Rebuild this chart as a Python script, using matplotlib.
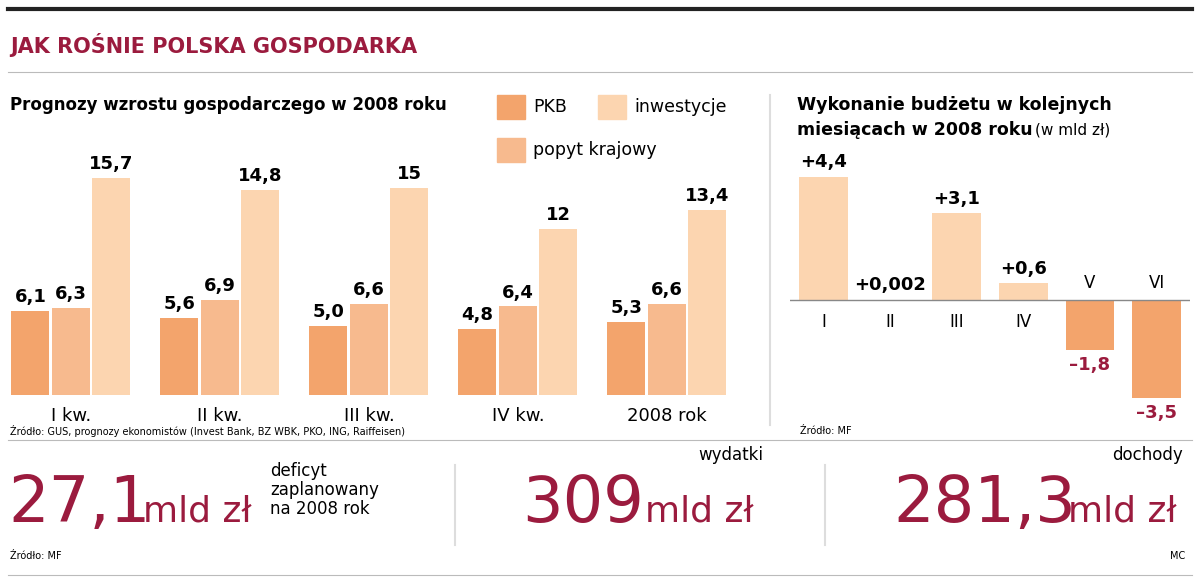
import matplotlib.pyplot as plt
from matplotlib.lines import Line2D
from matplotlib.patches import Rectangle

quarters = ["I kw.", "II kw.", "III kw.", "IV kw.", "2008 rok"]
pkb = [6.1, 5.6, 5.0, 4.8, 5.3]
popyt = [6.3, 6.9, 6.6, 6.4, 6.6]
inwestycje = [15.7, 14.8, 15.0, 12.0, 13.4]
series_names = ["PKB", "popyt krajowy", "inwestycje"]

months = ["I", "II", "III", "IV", "V", "VI"]
budget = [4.4, 0.002, 3.1, 0.6, -1.8, -3.5]
budget_labels = ["+4,4", "+0,002", "+3,1", "+0,6", "\u20131,8", "\u20133,5"]

C_PKB = "#F3A46C"
C_POPYT = "#F7BA8E"
C_INW = "#FCD5B0"
RED = "#9B1B3E"
FONT = "DejaVu Sans"

W, H = 1200, 580
fig = plt.figure(figsize=(12, 5.8), dpi=100)
fig.patch.set_facecolor("white")


def fx(px):
    return px / W


def fy(py):
    return 1 - py / H


def txt(x, y, s, **kw):
    kw.setdefault("family", FONT)
    fig.text(fx(x), fy(y), s, **kw)


# frame lines
fig.add_artist(Line2D([fx(8), fx(1192)], [fy(9), fy(9)], color="#222", lw=3))
fig.add_artist(Line2D([fx(8), fx(1192)], [fy(72), fy(72)], color="#bbb", lw=0.8))
fig.add_artist(Line2D([fx(8), fx(1192)], [fy(440), fy(440)], color="#bbb", lw=0.8))
fig.add_artist(Line2D([fx(8), fx(1192)], [fy(575), fy(575)], color="#bbb", lw=0.8))
fig.add_artist(Line2D([fx(770), fx(770)], [fy(95), fy(425)], color="#ddd", lw=1.5))
for xd in (455, 825):
    fig.add_artist(Line2D([fx(xd), fx(xd)], [fy(465), fy(545)], color="#ddd", lw=1.5))

txt(10, 45, "JAK ROŚNIE POLSKA GOSPODARKA", color=RED, fontsize=15, weight="bold", va="center")
txt(10, 105, "Prognozy wzrostu gospodarczego w 2008 roku", fontsize=12, weight="bold", va="center")
txt(797, 105, "Wykonanie budżetu w kolejnych", fontsize=12.5, weight="bold", va="center")
txt(797, 130, "miesiącach w 2008 roku", fontsize=12.5, weight="bold", va="center")
txt(1035, 130, "(w mld zł)", fontsize=11, va="center")

# legend
for (lx, ly, name, c) in [(497, 107, series_names[0], C_PKB), (598, 107, series_names[2], C_INW),
                          (497, 150, series_names[1], C_POPYT)]:
    fig.add_artist(Rectangle((fx(lx), fy(ly + 12)), fx(28), 24 / H, color=c, transform=fig.transFigure))
    txt(lx + 36, ly, name, fontsize=12.5, va="center")

# left bar chart
ax = fig.add_axes([fx(10), fy(395), fx(745), (395 - 153) / H])
ax.set_xlim(0, 5)
ax.set_ylim(0, 17.5)
bw = 0.255
offs = [0.01, 0.28, 0.55]
for vals, c, o in zip([pkb, popyt, inwestycje], [C_PKB, C_POPYT, C_INW], offs):
    xs = [i + o + bw / 2 for i in range(len(vals))]
    ax.bar(xs, vals, width=bw, color=c)
    for x, v in zip(xs, vals):
        lab = f"{v:.1f}".replace(".", ",") if v != int(v) or v < 10 else f"{int(v)}"
        ax.text(x, v + 0.35, lab, ha="center", va="bottom", fontsize=13, weight="bold", family=FONT)
for i, q in enumerate(quarters):
    ax.text(i + 0.41, -0.9, q, ha="center", va="top", fontsize=13, family=FONT)
ax.axis("off")
txt(10, 431, "Źródło: GUS, prognozy ekonomistów (Invest Bank, BZ WBK, PKO, ING, Raiffeisen)", fontsize=7, va="center")

# right bar chart
ax2 = fig.add_axes([fx(790), fy(412), fx(400), 252 / H])
ax2.set_xlim(-0.5, 5.5)
ax2.set_ylim(-4, 5)
cols = [C_INW if v >= 0 else C_PKB for v in budget]
ax2.bar(range(len(budget)), budget, width=0.73, color=cols)
ax2.axhline(0, color="#888", lw=1)
for i, (v, lab, m) in enumerate(zip(budget, budget_labels, months)):
    if v >= 0:
        ax2.text(i, v + 0.2, lab, ha="center", va="bottom", fontsize=13, weight="bold", family=FONT)
        ax2.text(i, -0.45, m, ha="center", va="top", fontsize=12, family=FONT)
    else:
        ax2.text(i, v - 0.2, lab, ha="center", va="top", fontsize=13, weight="bold", color=RED, family=FONT)
        ax2.text(i, 0.3, m, ha="center", va="bottom", fontsize=12, family=FONT)
ax2.axis("off")
txt(800, 431, "Źródło: MF", fontsize=7, va="center")

# bottom key numbers
txt(8, 522, "27,1", fontsize=46, color=RED, va="baseline")
txt(143, 522, "mld zł", fontsize=26, color=RED, va="baseline")
txt(270, 490, "deficyt\nzaplanowany\nna 2008 rok", fontsize=12, va="center", linespacing=1.1)
txt(522, 522, "309", fontsize=46, color=RED, va="baseline")
txt(645, 522, "mld zł", fontsize=26, color=RED, va="baseline")
txt(763, 455, "wydatki", fontsize=12, va="center", ha="right")
txt(893, 522, "281,3", fontsize=46, color=RED, va="baseline")
txt(1068, 522, "mld zł", fontsize=26, color=RED, va="baseline")
txt(1183, 455, "dochody", fontsize=12, va="center", ha="right")
txt(10, 556, "Źródło: MF", fontsize=7, va="center")
txt(1185, 556, "MC", fontsize=7, va="center", ha="right")

fig.savefig("out.png", dpi=100, facecolor="white")
